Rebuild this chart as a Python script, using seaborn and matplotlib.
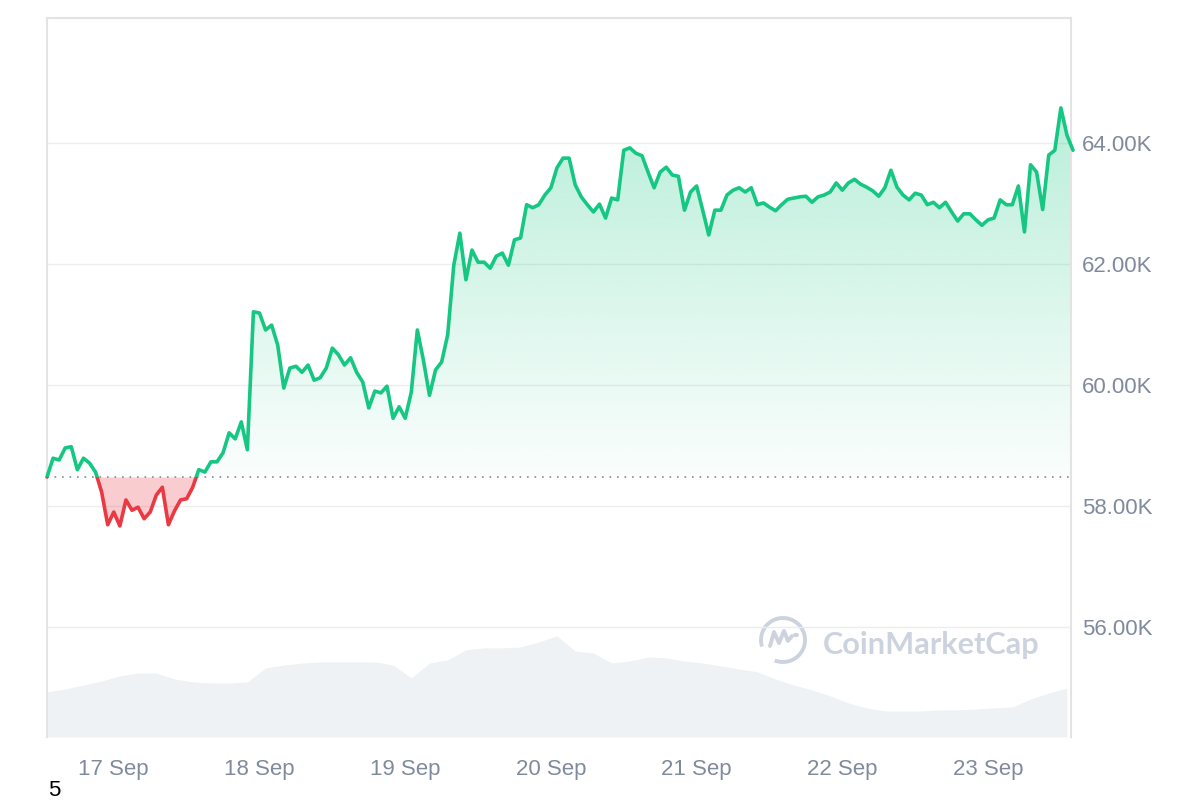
import matplotlib
matplotlib.use('Agg')
import matplotlib.pyplot as plt
import matplotlib.dates as mdates
import matplotlib.patches as mpatches
from matplotlib.colors import to_rgb
from matplotlib.lines import Line2D
from matplotlib.path import Path
from matplotlib.ticker import FuncFormatter
import numpy as np
import pandas as pd
import seaborn as sns

# Preço do BTC (milhares de USD), um ponto por hora a partir de 16 Sep 13:00
precos = [
    58.48, 58.79, 58.76, 58.96, 58.98, 58.60, 58.79, 58.71, 58.56, 58.23,
    57.69, 57.90, 57.67, 58.10, 57.93, 57.98, 57.79, 57.90, 58.18, 58.31,
    57.69, 57.92, 58.10, 58.12, 58.31, 58.60, 58.56, 58.73, 58.73, 58.88,
    59.21, 59.11, 59.39, 58.93, 61.21, 61.19, 60.91, 60.99, 60.66, 59.95,
    60.28, 60.31, 60.21, 60.33, 60.08, 60.12, 60.28, 60.61, 60.50, 60.33,
    60.45, 60.21, 60.05, 59.62, 59.90, 59.87, 59.98, 59.45, 59.64, 59.45,
    59.88, 60.91, 60.41, 59.83, 60.25, 60.38, 60.83, 61.98, 62.51, 61.74,
    62.23, 62.03, 62.03, 61.93, 62.13, 62.18, 61.98, 62.40, 62.43, 62.98,
    62.93, 62.98, 63.14, 63.26, 63.59, 63.75, 63.75, 63.31, 63.11, 62.98,
    62.86, 62.99, 62.76, 63.09, 63.06, 63.88, 63.92, 63.83, 63.79, 63.52,
    63.26, 63.52, 63.60, 63.47, 63.45, 62.89, 63.19, 63.29, 62.89, 62.48,
    62.89, 62.89, 63.14, 63.22, 63.26, 63.19, 63.26, 62.98, 63.01, 62.94,
    62.88, 62.98, 63.07, 63.09, 63.11, 63.12, 63.02, 63.11, 63.14, 63.19,
    63.34, 63.22, 63.34, 63.40, 63.32, 63.27, 63.21, 63.12, 63.26, 63.55,
    63.27, 63.14, 63.06, 63.17, 63.14, 62.98, 63.02, 62.93, 63.02, 62.86,
    62.71, 62.83, 62.83, 62.73, 62.64, 62.73, 62.76, 63.06, 62.98, 62.98,
    63.29, 62.53, 63.64, 63.52, 62.90, 63.80, 63.88, 64.58, 64.13, 63.88,
]

# Volume 24h (bilhões de USD), um ponto a cada 3 horas
volumes = [
    15.8, 16.8, 18.2, 19.6, 21.4, 22.4, 22.4, 20.3, 19.3, 18.9,
    18.9, 19.3, 24.2, 25.2, 25.9, 26.3, 26.3, 26.3, 26.3, 25.2,
    20.7, 25.9, 27.0, 30.5, 31.2, 31.2, 31.5, 33.3, 35.4, 30.1,
    29.4, 25.9, 26.6, 28.0, 27.7, 26.6, 25.9, 24.9, 23.8, 22.8,
    20.3, 18.2, 16.5, 14.4, 11.9, 10.2, 9.1, 9.1, 9.1, 9.5,
    9.5, 9.8, 10.2, 10.5, 13.3, 15.4, 17.2,
]

inicio = pd.Timestamp('2024-09-16 13:00')
fim_eixo = pd.Timestamp('2024-09-23 13:40')
ticks_y = [56, 58, 60, 62, 64]

verde = '#16c784'
vermelho = '#ea3943'
cinza_texto = '#808a9d'
cinza_volume = '#eff2f5'
cor_marca = '#cdd3de'

df = pd.DataFrame({'tempo': pd.date_range(inicio, periods=len(precos), freq='h'),
                   'preco': precos})
df_vol = pd.DataFrame({'tempo': pd.date_range(inicio, periods=len(volumes), freq='3h'),
                       'volume': volumes})

# Estilo
sns.set_style('white')
plt.rcParams['font.family'] = ['Liberation Sans', 'DejaVu Sans']

fig = plt.figure(figsize=(12, 8), dpi=100)
ax = fig.add_axes([47 / 1200, 63 / 800, 1024 / 1200, 719 / 800])
ax2 = ax.twinx()
ax.set_zorder(ax2.get_zorder() + 1)
ax.patch.set_visible(False)

# Volume no fundo
ax2.fill_between(df_vol['tempo'], 0, df_vol['volume'], color=cinza_volume, lw=0)
ax2.set_ylim(0, 719 * 0.35)
ax2.set_axis_off()

x = mdates.date2num(df['tempo'])
y = np.array(precos)
base = precos[0]

# Área verde com degradê
acima = ax.fill_between(df['tempo'], base, y, where=y >= base, interpolate=True,
                        facecolor='none', lw=0)
caminho = Path.make_compound_path(*acima.get_paths())
grad = np.linspace(0, 1, 256).reshape(-1, 1)
rgba = np.zeros((256, 1, 4))
rgba[..., :3] = to_rgb(verde)
rgba[..., 3] = 0.02 + 0.28 * grad
im = ax.imshow(rgba, extent=[x[0], x[-1], base, y.max()], origin='lower',
               aspect='auto', zorder=1, interpolation='bilinear')
im.set_clip_path(caminho, transform=ax.transData)

# Área vermelha
ax.fill_between(df['tempo'], base, y, where=y < base, interpolate=True,
                color=vermelho, alpha=0.25, lw=0, zorder=1)

# Linha de referência pontilhada
ax.axhline(base, color='#8b8b8b', lw=1.2, ls=(0, (1, 3.5)), zorder=2)

# Linha do preço: verde acima da base, vermelha abaixo
ret_cima = mpatches.Rectangle((x[0] - 1, base), x[-1] - x[0] + 2, 100, transform=ax.transData)
ret_baixo = mpatches.Rectangle((x[0] - 1, base - 100), x[-1] - x[0] + 2, 100, transform=ax.transData)
sns.lineplot(data=df, x='tempo', y='preco', ax=ax, color=verde, lw=2.6, zorder=3)
ax.lines[-1].set_clip_path(ret_cima)
sns.lineplot(data=df, x='tempo', y='preco', ax=ax, color=vermelho, lw=2.6, zorder=3)
ax.lines[-1].set_clip_path(ret_baixo)

# Eixos
ax.set_xlim(inicio, fim_eixo)
ax.set_ylim(54.182, 66.066)
ax.yaxis.tick_right()
ax.set_yticks(ticks_y)
ax.yaxis.set_major_formatter(FuncFormatter(lambda v, p: f'{v:.2f}K'))
ax.xaxis.set_major_locator(mdates.DayLocator())
ax.xaxis.set_major_formatter(mdates.DateFormatter('%d %b'))
ax.tick_params(axis='y', length=0, pad=8, labelsize=16, labelcolor=cinza_texto)
ax.tick_params(axis='x', length=0, pad=16, labelsize=16, labelcolor=cinza_texto)
ax.set_xlabel('')
ax.set_ylabel('')
ax.yaxis.grid(True, color='#ededed', lw=1)
ax.xaxis.grid(False)
for lado in ['top', 'left', 'right']:
    ax.spines[lado].set_color('#e3e3e3')
    ax.spines[lado].set_linewidth(1.5)
ax.spines['bottom'].set_visible(False)

# Marca d'água
fig.add_artist(mpatches.Arc((783 / 1200, 160 / 800), 44 / 1200, 44 / 800, theta1=255, theta2=205,
                            transform=fig.transFigure, color=cor_marca, lw=2.8))
onda = [(-13, -6), (-9, 8), (-4, -3), (1, 9), (5, -1), (9, 4)]
fig.add_artist(Line2D([(783 + dx) / 1200 for dx, dy in onda],
                      [(160 + dy) / 800 for dx, dy in onda],
                      transform=fig.transFigure, color=cor_marca, lw=2.8,
                      solid_joinstyle='round', solid_capstyle='round'))
fig.add_artist(mpatches.Circle((796 / 1200, 165 / 800), 2.2 / 1200, transform=fig.transFigure,
                               color=cor_marca))
marca = fig.text(823 / 1200, 146 / 800, 'CoinMarketCap', color=cor_marca, fontsize=24,
                 fontweight='bold', family=['Lato', 'DejaVu Sans'], ha='left', va='baseline')
fig.canvas.draw()
largura = marca.get_window_extent().width
marca.set_fontsize(24 * 217 / largura)

fig.text(48 / 1200, 10 / 800, '5', fontsize=16, color='black', ha='left', va='center')

plt.savefig('out.png', dpi=100)
plt.close()
